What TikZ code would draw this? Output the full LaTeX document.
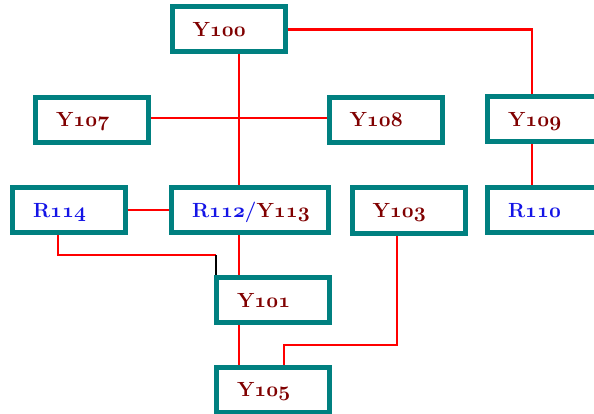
\documentclass[tikz,border=0pt]{standalone}
\usetikzlibrary{backgrounds}
\definecolor{boxteal}{RGB}{0,128,128}
\definecolor{lblmaroon}{RGB}{128,0,0}
\definecolor{lblblue}{RGB}{20,20,230}
\newcommand\onum[1]{{\usefont{OML}{cmm}{b}{it}#1}}
\newcommand\lblbox[1]{\makebox[72pt][l]{#1}}
\begin{document}
\begin{tikzpicture}[x=1pt,y=-1pt,
  unit/.style={draw=boxteal, line width=5pt, fill=white,
    minimum width=113pt, minimum height=45pt,
    inner xsep=20.5pt, inner ysep=0pt, text height=14pt, text depth=0pt,
    font=\fontsize{20.5}{24}\selectfont\bfseries},
  link/.style={draw=red, line width=2.2pt},
  ]
\useasboundingbox (0,0) rectangle (594,414);
\clip (0,0) rectangle (594,414);

\node[unit, text=lblmaroon] (Y100) at (228.5,29.5) {\lblbox{Y\onum{100}}};
\node[unit, text=lblmaroon] (Y107) at (92,120) {\lblbox{Y\onum{107}}};
\node[unit, text=lblmaroon] (Y108) at (385.5,120) {\lblbox{Y\onum{108}}};
\node[unit, text=lblmaroon] (Y109) at (544,119.5) {\lblbox{Y\onum{109}}};
\node[unit, text=lblblue] (R114) at (69,210) {\lblbox{R\onum{114}}};
\node[unit, minimum width=157pt] (R112) at (250,210) {\makebox[116pt][l]{\textcolor{lblblue}{R\onum{112}/}\textcolor{lblmaroon}{Y\onum{113}}}};
\node[unit, text=lblmaroon] (Y103) at (408.5,210.5) {\lblbox{Y\onum{103}}};
\node[unit, text=lblblue] (R110) at (544,210) {\lblbox{R\onum{110}}};
\node[unit, text=lblmaroon] (Y101) at (273,300) {\lblbox{Y\onum{101}}};
\node[unit, text=lblmaroon] (Y105) at (273,389.5) {\lblbox{Y\onum{105}}};

\coordinate (bendA) at (216,255);
\coordinate (bendB) at (284,345);

\begin{scope}[on background layer]
\draw[link] (Y100.east) -- ([xshift=-12pt]Y100.east -| Y109.north) -- ([xshift=-12pt]Y109.north);
\draw[link] ([xshift=10.5pt]Y100.south) -- ([xshift=10.5pt]Y100.south |- R112.north);
\draw[link] ([yshift=2pt]Y107.east) -- ([yshift=2pt]Y108.west);
\draw[link] (R114.east) -- (R114.east -| R112.west);
\draw[link] ([xshift=-11pt]R114.south) |- (bendA);
\draw[black, line width=1.2pt] (bendA) -- (bendA |- Y101.north);
\draw[link] ([xshift=-11pt]R112.south) -- ([xshift=-11pt]R112.south |- Y101.north);
\draw[link] ([xshift=-34pt]Y101.south) -- ([xshift=-34pt]Y101.south |- Y105.north);
\draw[link] ([xshift=-11.5pt]Y103.south) |- (bendB) -- (bendB |- Y105.north);
\draw[link] ([xshift=-12pt]Y109.south) -- ([xshift=-12pt]R110.north);
\end{scope}
\end{tikzpicture}
\end{document}
